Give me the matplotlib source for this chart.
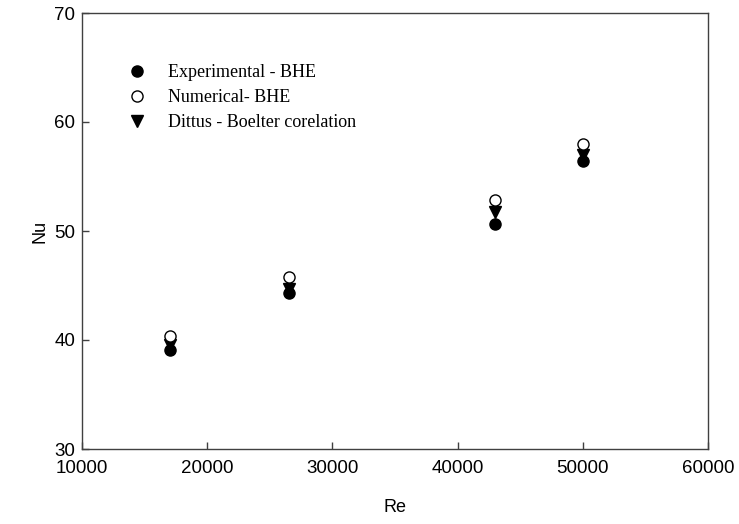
import matplotlib
matplotlib.use("Agg")
import matplotlib.pyplot as plt
from matplotlib.lines import Line2D

# Data
re_vals = [17000, 26500, 43000, 50000]
nu_exp = [39.1, 44.3, 50.6, 56.4]
nu_num = [40.4, 45.8, 52.8, 58.0]
nu_db = [39.5, 44.7, 51.7, 57.0]

labels = ["Experimental - BHE", "Numerical- BHE", "Dittus - Boelter corelation"]

plt.rcParams['font.family'] = ['Liberation Sans', 'DejaVu Sans']

fig = plt.figure(figsize=(7.39, 5.24), dpi=100)
ax = fig.add_axes([82/739, 1-449/524, 626/739, 436/524])

ms = 8
ax.plot(re_vals, nu_exp, 'o', color='black', markersize=ms, zorder=3)
ax.plot(re_vals, nu_db, 'v', color='black', markersize=ms, zorder=4)
ax.plot(re_vals, nu_num, 'o', markerfacecolor='white', markeredgecolor='black',
        markersize=ms, markeredgewidth=1.0, zorder=5)

ax.set_xlim(10000, 60000)
ax.set_ylim(30, 70)
ax.set_xticks([10000, 20000, 30000, 40000, 50000, 60000])
ax.set_yticks([30, 40, 50, 60, 70])
ax.tick_params(direction='in', length=5, width=1, color='#404040', labelsize=13.5)
ax.tick_params(axis='x', pad=8)
ax.tick_params(axis='y', pad=5)
for s in ax.spines.values():
    s.set_color('#404040')
    s.set_linewidth(1.0)

ax.set_xlabel('Re', fontsize=13, labelpad=16)
ax.set_ylabel('Nu', fontsize=13, labelpad=4)

handles = [
    Line2D([], [], ls='none', marker='o', color='black', markersize=ms),
    Line2D([], [], ls='none', marker='o', markerfacecolor='white', markeredgecolor='black', markersize=ms),
    Line2D([], [], ls='none', marker='v', color='black', markersize=ms),
]
ax.legend(handles, labels, loc='upper left', bbox_to_anchor=(0.04, 0.92), frameon=False,
          prop={'family': 'Liberation Serif', 'size': 13}, handletextpad=1.0,
          labelspacing=0.45, handlelength=1.5)

fig.savefig('out.png', dpi=100)
